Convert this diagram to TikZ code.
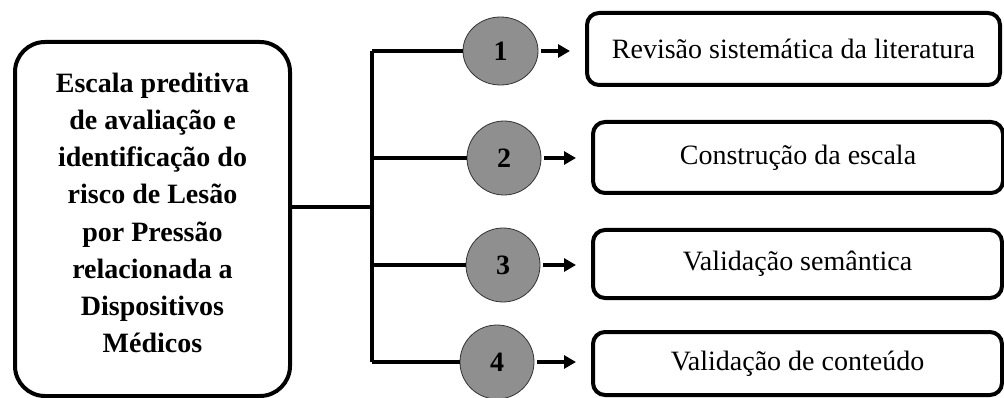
\documentclass[tikz,border=0pt]{standalone}
\usepackage{fontspec}
\setmainfont{Liberation Serif}
\usetikzlibrary{arrows.meta,shapes.geometric}
\definecolor{stepgray}{RGB}{143,143,143}

\begin{document}
\begin{tikzpicture}[x=1pt,y=-1pt,
  mainbox/.style={draw,line width=4pt,rounded corners=30pt},
  maintext/.style={align=center,font=\fontsize{28}{37.2}\selectfont\bfseries},
  stepcircle/.style={circle,draw=black!80,line width=0.8pt,fill=stepgray,
    minimum size=74pt,inner sep=0pt,font=\fontsize{28}{30}\selectfont\bfseries},
  taskbox/.style={draw,line width=4pt,rounded corners=12pt,minimum height=68pt,
    font=\fontsize{28}{30}\selectfont},
  link/.style={line width=4pt},
  go/.style={line width=4pt,-{Triangle[length=12pt,width=13pt]},shorten <=3pt,shorten >=15pt}]
\useasboundingbox (0,0) rectangle (1004,398);

\node[mainbox,minimum width=275pt,minimum height=354pt] (scale) at (152.5,219) {};
\node[maintext] (scaletext) at ([yshift=6pt]scale.center)
  {Escala preditiva\\de avaliação e\\identificação do\\risco de Lesão\\por Pressão\\relacionada a\\Dispositivos\\Médicos};
\coordinate (trunk) at (372,207);

\node[stepcircle,ellipse,minimum width=75pt,minimum height=68pt] (c1) at (500.5,51) {1};
\node[stepcircle] (c2) at (504,158) {2};
\node[stepcircle] (c3) at (503,265) {3};
\node[stepcircle] (c4) at (497,362) {4};

\node[taskbox,minimum width=413pt,minimum height=72pt] (t1) at (793.5,49) {Revisão sistemática da literatura};
\node[taskbox,minimum width=410pt,minimum height=71pt] (t2) at (798,157.5) {Construção da escala};
\node[taskbox,minimum width=409pt] (t3) at (797.5,264) {Validação semântica};
\node[taskbox,minimum width=409pt,minimum height=63pt] (t4) at (797.5,363.5) {Validação de conteúdo};

\draw[link] (scale.east |- trunk) -- (trunk);
\draw[link] (trunk |- c1) -- (trunk |- c4);
\foreach \i in {1,...,4} {
  \draw[link] (trunk |- c\i) -- (c\i.west);
  \draw[go] (c\i.east) -- (c\i.east -| t\i.west);
}
\end{tikzpicture}
\end{document}
